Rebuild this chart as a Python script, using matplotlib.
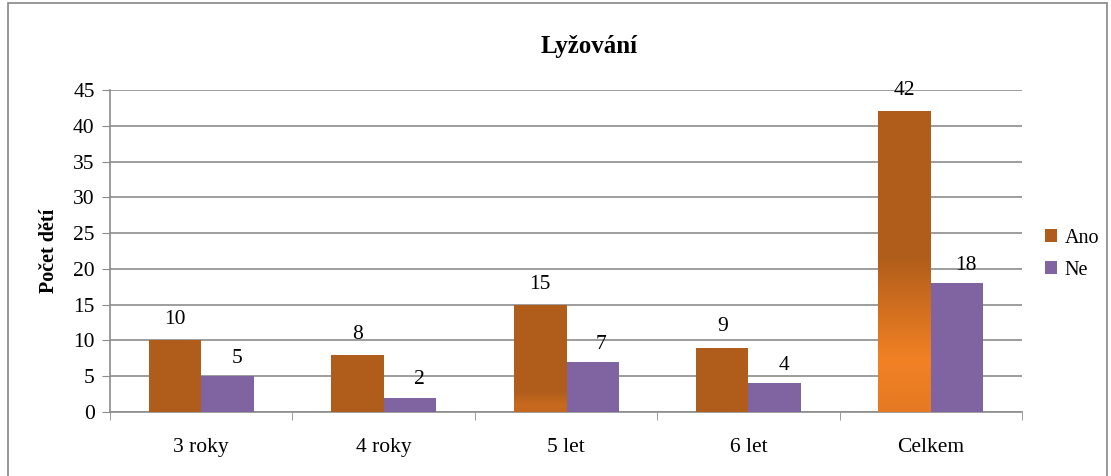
import matplotlib
matplotlib.use('Agg')
import matplotlib.pyplot as plt
import numpy as np
from matplotlib.colors import to_rgb
from matplotlib.patches import Rectangle

plt.rcParams['font.family'] = ['Liberation Serif', 'DejaVu Serif']

# data
categories = ['3 roky', '4 roky', '5 let', '6 let', 'Celkem']
ano = [10, 8, 15, 9, 42]
ne = [5, 2, 7, 4, 18]

c_ano = '#B05D1B'
c_bright = '#F28124'
c_ne = '#8064A2'
grid_c = '#8C8C8C'
fs = 15.5

fig = plt.figure(figsize=(11.11, 4.76), dpi=100)
ax = fig.add_axes([0.099, 0.1345, 0.821, 0.6765])

x = np.arange(len(categories))
w = 0.288

bars_ano = ax.bar(x - w / 2, ano, w, color=c_ano, zorder=3, label='Ano')
bars_ne = ax.bar(x + w / 2, ne, w, color=c_ne, zorder=3, label='Ne')

# gradient near the bottom of the taller Ano bars (as rendered by Excel)
dark = np.array(to_rgb(c_ano))
bright = np.array(to_rgb(c_bright))
for b, h in zip(bars_ano, ano):
    g = max(0, h - 11) * 0.7
    if g <= 0:
        continue
    k = min(1.0, 0.25 + g / 25)
    y = np.linspace(0, h, 300)
    t = np.clip((g - y) / (g * 0.67), 0, 1)
    t = np.where(y < g / 3, 0.8 + 0.2 * y / (g / 3), t) * k
    img = (dark[None, :] * (1 - t[:, None]) + bright[None, :] * t[:, None])[:, None, :]
    x0 = b.get_x()
    im = ax.imshow(img, aspect='auto', origin='lower',
                   extent=[x0, x0 + b.get_width(), 0, h], zorder=3)
    im.set_clip_path(b)

for b, v in zip(bars_ano, ano):
    ax.annotate(str(v), (b.get_x() + b.get_width() / 2, v), xytext=(0, 8),
                textcoords='offset points', ha='center', va='bottom', fontsize=fs)
for b, v in zip(bars_ne, ne):
    ax.annotate(str(v), (b.get_x() + b.get_width() / 2 + 0.05, v), xytext=(0, 6),
                textcoords='offset points', ha='center', va='bottom', fontsize=fs)

ax.set_xlim(-0.5, len(categories) - 0.5)
ax.set_ylim(0, 45)
ax.set_yticks(range(0, 46, 5))
ax.set_xticks(x)
ax.set_xticklabels(categories, fontsize=fs)
ax.set_xticks(np.arange(-0.5, len(categories), 1), minor=True)
ax.tick_params(axis='x', which='major', length=0, pad=19)
ax.tick_params(axis='x', which='minor', length=6, color=grid_c, direction='out')
ax.tick_params(axis='y', length=6, color=grid_c, labelsize=fs, pad=5)

ax.grid(axis='y', color=grid_c, linewidth=1.2, zorder=0)
for s in ['top', 'right']:
    ax.spines[s].set_visible(False)
for s in ['left', 'bottom']:
    ax.spines[s].set_color(grid_c)
    ax.spines[s].set_linewidth(1.2)

ax.set_ylabel('Počet dětí', fontsize=14.5, fontweight='bold', labelpad=10)
fig.text(0.53, 0.903, 'Lyžování', ha='center', va='center', fontsize=18, fontweight='bold')

ax.legend(loc='center left', bbox_to_anchor=(1.01, 0.49), frameon=False, fontsize=14.5,
          handlelength=0.6, handleheight=0.6, handletextpad=0.35, labelspacing=0.65,
          borderpad=0.2)

# outer border of the chart area
fig.patches.append(Rectangle((0.007, -0.01), 0.989, 1.003, transform=fig.transFigure,
                             fill=False, edgecolor='#868686', linewidth=1.2))

fig.savefig('out.png', dpi=100)
